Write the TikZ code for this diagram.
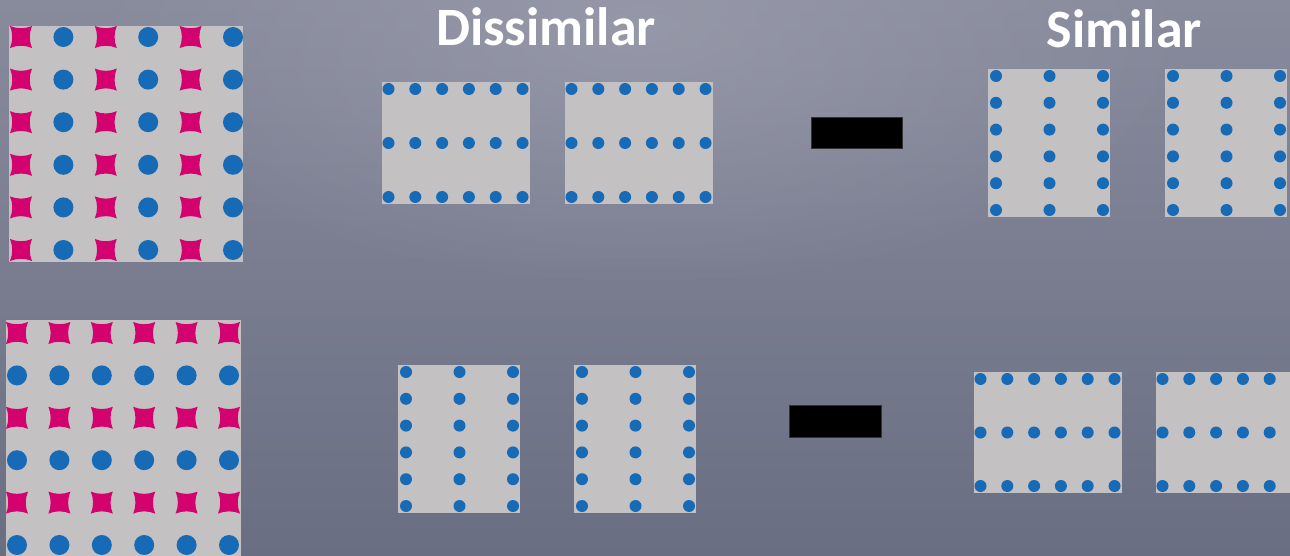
\documentclass[tikz,border=0pt]{standalone}
\usepackage{fontspec}
\setmainfont{Carlito}
\usetikzlibrary{fadings}
\tikzfading[name=glowfade, inner color=transparent!0, outer color=transparent!100]
\begin{document}
\begin{tikzpicture}[x=1pt,y=-1pt,
  panel/.style={fill=panelgrey,draw=none,inner sep=0pt,outer sep=0pt},
  bar/.style={fill=black,draw=black!60!gray,line width=0.6pt},
  title/.style={text=white,font=\bfseries\fontsize{54}{60}\selectfont,anchor=base,inner sep=0pt},
  star4/.pic={\fill[pinkc] (-11,-11) .. controls (-4,-8) and (4,-8) .. (11,-11)
      .. controls (8,-4) and (8,4) .. (11,11)
      .. controls (4,8) and (-4,8) .. (-11,11)
      .. controls (-8,4) and (-8,-4) .. cycle;}]
\definecolor{panelgrey}{RGB}{195,193,194}
\definecolor{pinkc}{RGB}{212,2,110}
\definecolor{bluec}{RGB}{22,106,182}
\definecolor{bgtop}{RGB}{136,139,156}
\definecolor{bgbot}{RGB}{106,110,130}
\definecolor{glow}{RGB}{156,158,174}

% background with a soft light spot near the top
\useasboundingbox (0,0) rectangle (1290,556);
\shade[top color=bgtop,bottom color=bgbot] (0,0) rectangle (1290,556);
\begin{scope}
  \clip (0,0) rectangle (1290,556);
  \fill[glow,opacity=0.7,path fading=glowfade] (640,30) ellipse (560 and 260);
\end{scope}

% titles
\node[title] (tdis) at (546,46) {Dissimilar};
\node[title] (tsim) at (1124.5,48) {Similar};

% large patterned panels
\path[panel] (9,26) rectangle (243,262) coordinate (bigA);
\foreach \r in {0,...,5}{
  \foreach \c in {0,2,4}{
    \pic at ({21+42.4*\c},{37+42.6*\r}) {star4};
    \fill[bluec] ({21+42.4*(\c+1)},{37+42.6*\r}) circle (10);
  }
}
\begin{scope}
  \clip (0,0) rectangle (1290,556);
  \path[panel] (6,320) rectangle (241,570) coordinate (bigB);
  \foreach \c in {0,...,5}{
    \foreach \r in {0,2,4}{
      \pic at ({17+42.4*\c},{333+42.4*\r}) {star4};
      \fill[bluec] ({17+42.4*\c},{333+42.4*(\r+1)}) circle (10);
    }
  }
\end{scope}

% striped panels: rows of dots (3 rows x 6 columns)
\foreach \x/\y/\nm in {382/82/da,565/82/db,974/372/sc,1156/372/sd}{
  \begin{scope}
    \clip (0,0) rectangle (1290,556);
    \path[panel] (\x,\y) rectangle ++(148,{\ifnum\y=82 122\else 121\fi}) coordinate (\nm);
    \foreach \c in {0,...,5}{
      \foreach \r in {0,1,2}{
        \fill[bluec] ({\x+6.5+26.8*\c},{\y+7+\ifnum\y=82 54\else 53.5\fi*\r}) circle (6);
      }
    }
  \end{scope}
}

% striped panels: columns of dots (6 rows x 3 columns)
\foreach \x/\y/\nm in {398/365/dc,574/365/dd,988/69/sa,1165/69/sb}{
  \path[panel] (\x,\y) rectangle ++(122,148) coordinate (\nm);
  \foreach \c in {0,1,2}{
    \foreach \r in {0,...,5}{
      \fill[bluec] ({\x+8+53.5*\c},{\y+7+26.8*\r}) circle (6);
    }
  }
}

% black bars
\node[bar,minimum width=91pt,minimum height=31pt,inner sep=0pt] (bar1) at (856.5,132.5) {};
\node[bar,minimum width=92pt,minimum height=32pt,inner sep=0pt] (bar2) at (835,421) {};
\end{tikzpicture}
\end{document}
